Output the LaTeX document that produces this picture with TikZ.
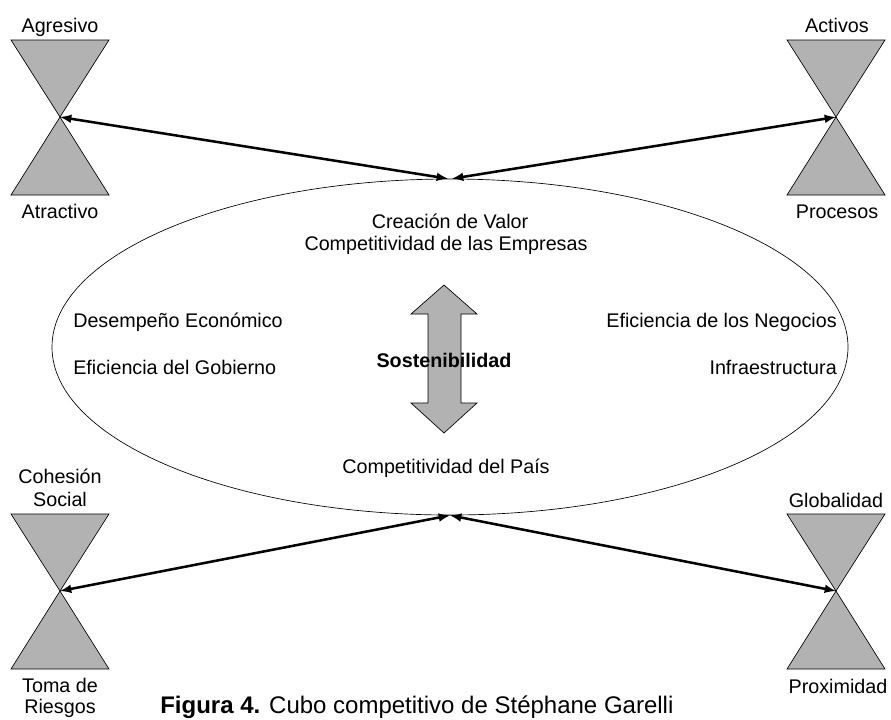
\documentclass[tikz,border=0pt]{standalone}
\usepackage{fontspec}
\setmainfont{Liberation Sans}
\usetikzlibrary{shapes.geometric, arrows, positioning}
\tikzstyle{hour} = [fill = black!30, 
			draw, 
			line width = 0.5pt]
\tikzstyle{lbl} = [inner sep = 0, 
			anchor = base, 
			font = \fontsize{14.8}{17}\selectfont]
\tikzstyle{link} = [<->, 
			>=latex, 
			line width = 1.9pt]

\begin{document}
\begin{tikzpicture}[x = 0.75pt, y = -0.75pt]
	\useasboundingbox (0,0) rectangle (891,719);
	\clip (0,0) rectangle (891,719);
	\foreach \cx/\cy/\n in {60/117/agr, 836/117/act, 60/591/coh, 836/591/glo}{
		\coordinate (\n) at (\cx,\cy);
		\filldraw [hour, shift = {(\cx,\cy)}] (-49,-77) -- (49,-77) -- (0,0) -- cycle;
		\filldraw [hour, shift = {(\cx,\cy)}] (-49,78) -- (49,78) -- (0,0) -- cycle;
	}
	\node [ellipse, draw, line width = 0.5pt, minimum width = 597pt, minimum height = 252pt, inner sep = 0] (cube) at (450,347) {};
	\filldraw [hour] (444,285) -- (477,314) -- (461,314) -- (461,403) -- (477,403) -- (444,433)
		-- (411,403) -- (428,403) -- (428,314) -- (411,314) -- cycle;
	\node [lbl] (agresivo) at (60,32) {Agresivo};
	\node [lbl] (atractivo) at (60,218) {Atractivo};
	\node [lbl] (activos) at (837,32) {Activos};
	\node [lbl] (procesos) at (837,218) {Procesos};
	\node [lbl] (cohesion) at (60,483) {Cohesión};
	\node [lbl] (social) at (60,506) {Social};
	\node [lbl] (toma) at (60,692) {Toma de};
	\node [lbl] (riesgos) at (60,713) {Riesgos};
	\node [lbl] (globalidad) at (836,507) {Globalidad};
	\node [lbl] (proximidad) at (838,693) {Proximidad};
	\node [lbl] (valor) at (450,228) {Creación de Valor};
	\node [lbl] (empresas) at (446,250) {Competitividad de las Empresas};
	\node [lbl, anchor = base west] (desempeno) at (73,327) {Desempeño Económico};
	\node [lbl, anchor = base west] (gobierno) at (73,374) {Eficiencia del Gobierno};
	\node [lbl, anchor = base east] (negocios) at (837,327) {Eficiencia de los Negocios};
	\node [lbl, anchor = base east] (infra) at (837,374) {Infraestructura};
	\node [lbl, font = \fontsize{14.8}{17}\selectfont\bfseries] (sosten) at (444,367) {Sostenibilidad};
	\node [lbl] (pais) at (446,473) {Competitividad del País};
	\node [lbl, anchor = base west, font = \fontsize{18}{22}\selectfont] (caption) at (160,713) {\textbf{Figura 4.} Cubo competitivo de Stéphane Garelli};
	\draw [link] (agr) -- ([xshift = -1.5pt]cube.north);
	\draw [link] (act) -- ([xshift = 1.5pt]cube.north);
	\draw [link] (coh) -- (cube.south);
	\draw [link] (glo) -- (cube.south);
\end{tikzpicture}
\end{document}
